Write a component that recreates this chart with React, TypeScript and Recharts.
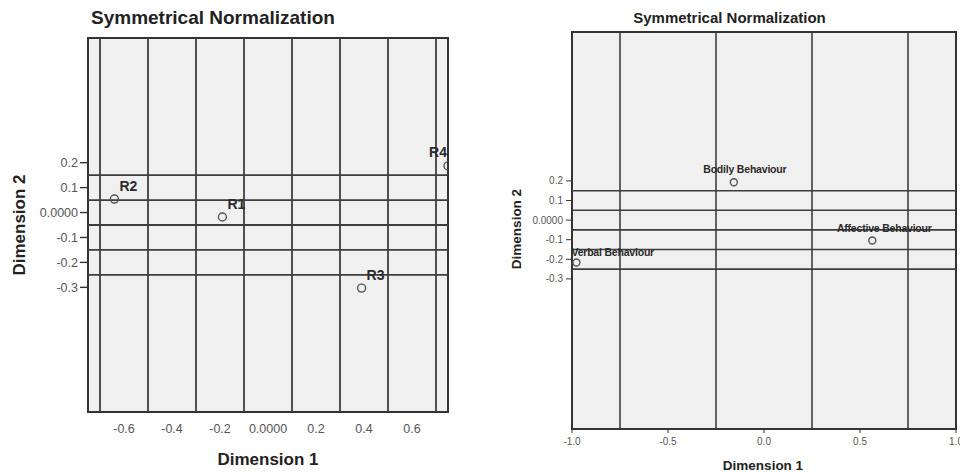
import React from "react";
import {
  ScatterChart,
  Scatter,
  XAxis,
  YAxis,
  CartesianGrid,
  ReferenceLine,
  ReferenceArea,
} from "recharts";

const FONT = '"Liberation Sans", Arial, sans-serif';

// row points (left panel)
const rowLabels = ["R1", "R2", "R3", "R4"];
const rowDim1 = [-0.19, -0.64, 0.39, 0.75];
const rowDim2 = [-0.018, 0.054, -0.303, 0.187];

// column points (right panel)
const colLabels = ["Bodily Behaviour", "Affective Behaviour", "Verbal Behaviour"];
const colDim1 = [-0.157, 0.564, -0.977];
const colDim2 = [0.193, -0.104, -0.216];

const rowXTicks = [-0.6, -0.4, -0.2, 0, 0.2, 0.4, 0.6];
const colXTicks = [-1, -0.5, 0, 0.5, 1];
const yTicks = [-0.3, -0.2, -0.1, 0, 0.1, 0.2];

// reference lines drawn by SPSS
const rowGridX = [-0.7, -0.5, -0.3, -0.1, 0.1, 0.3, 0.5, 0.7];
const colGridX = [-0.75, -0.25, 0.25, 0.75];
const gridY = [-0.25, -0.15, -0.05, 0.05, 0.15];

const fmtX = (v: number) => (v === 0 ? "0.0000" : v.toFixed(1));
const fmtColX = (v: number) => v.toFixed(1);
const fmtY = (v: number) => (v === 0 ? "0.0000" : v.toFixed(1));

const LINE = "#3d3d3d";

type Place = { anchor: "start" | "middle" | "end"; dx: number; dy: number };

const rowPlace = (name: string): Place =>
  name === "R4" ? { anchor: "end", dx: -1, dy: -9 } : { anchor: "start", dx: 5, dy: -8 };

const colPlace = (name: string): Place => {
  if (name === "Bodily Behaviour") return { anchor: "middle", dx: 11, dy: -9 };
  if (name === "Affective Behaviour") return { anchor: "middle", dx: 12, dy: -8 };
  return { anchor: "start", dx: -5, dy: -6 };
};

const makeShape =
  (r: number, fontSize: number, place: (n: string) => Place, spacing = 0) =>
  (props: any) => {
    const { cx, cy, payload } = props;
    const p = place(payload.name);
    return (
      <g>
        <circle cx={cx} cy={cy} r={r} fill="none" stroke="#555" strokeWidth={1.4} />
        <text
          x={cx + p.dx}
          y={cy + p.dy}
          textAnchor={p.anchor}
          fontSize={fontSize}
          fontWeight="bold"
          fontFamily={FONT}
          letterSpacing={spacing}
          fill="#2a2a2a"
        >
          {payload.name}
        </text>
      </g>
    );
  };

const rowShape = makeShape(4, 14, rowPlace);
const colShape = makeShape(3.5, 10.5, colPlace, -0.2);

const abs = (style: React.CSSProperties): React.CSSProperties => ({
  position: "absolute",
  whiteSpace: "nowrap",
  fontFamily: FONT,
  fontWeight: "bold",
  color: "#222",
  ...style,
});

function RowPanel() {
  const data = rowLabels.map((name, i) => ({ name, x: rowDim1[i], y: rowDim2[i] }));
  return (
    <div style={{ position: "absolute", left: 0, top: 0, width: 480, height: 472 }}>
      <ScatterChart width={480} height={472} margin={{ top: 38, right: 32, bottom: 0, left: 0 }}>
        <CartesianGrid horizontal={false} vertical={false} fill="#f0f0f0" />
        {rowGridX.map((v) => (
          <ReferenceLine key={"x" + v} x={v} stroke={LINE} strokeWidth={1.8} />
        ))}
        {gridY.map((v) => (
          <ReferenceLine key={"y" + v} y={v} stroke={LINE} strokeWidth={1.8} />
        ))}
        <ReferenceArea
          x1={-0.75}
          x2={0.75}
          y1={-0.8}
          y2={0.7}
          fill="none"
          stroke="#333"
          strokeWidth={2}
          ifOverflow="visible"
        />
        <XAxis
          type="number"
          dataKey="x"
          domain={[-0.75, 0.75]}
          allowDataOverflow
          ticks={rowXTicks}
          interval={0}
          tickFormatter={fmtX}
          height={60}
          axisLine={false}
          tickLine={false}
          tickSize={6}
          tickMargin={6}
          tick={{ fill: "#555", fontSize: 12.5, fontFamily: FONT }}
        />
        <YAxis
          type="number"
          dataKey="y"
          domain={[-0.8, 0.7]}
          allowDataOverflow
          ticks={yTicks}
          interval={0}
          tickFormatter={fmtY}
          width={88}
          axisLine={false}
          tickLine={{ stroke: "#333", strokeWidth: 1.4 }}
          tickSize={8}
          tickMargin={2}
          tick={{ fill: "#555", fontSize: 12.5, fontFamily: FONT }}
        />
        <Scatter data={data} shape={rowShape} isAnimationActive={false} />
      </ScatterChart>
      <div style={abs({ left: 91, top: 8, fontSize: 19, lineHeight: "19px" })}>
        Symmetrical Normalization
      </div>
      <div
        style={abs({
          left: 268,
          top: 451,
          fontSize: 17,
          lineHeight: "17px",
          transform: "translateX(-50%)",
        })}
      >
        Dimension 1
      </div>
      <div
        style={abs({
          left: 19,
          top: 225,
          fontSize: 17,
          lineHeight: "17px",
          transform: "translate(-50%, -50%) rotate(-90deg)",
        })}
      >
        Dimension 2
      </div>
    </div>
  );
}

function ColPanel() {
  const data = colLabels.map((name, i) => ({ name, x: colDim1[i], y: colDim2[i] }));
  return (
    <div style={{ position: "absolute", left: 480, top: 0, width: 480, height: 472 }}>
      <ScatterChart width={480} height={472} margin={{ top: 32, right: 4, bottom: 0, left: 0 }}>
        <CartesianGrid horizontal={false} vertical={false} fill="#f0f0f0" />
        {colGridX.map((v) => (
          <ReferenceLine key={"x" + v} x={v} stroke={LINE} strokeWidth={1.6} />
        ))}
        {gridY.map((v) => (
          <ReferenceLine key={"y" + v} y={v} stroke={LINE} strokeWidth={1.6} />
        ))}
        <ReferenceArea
          x1={-1}
          x2={1}
          y1={-1.066}
          y2={0.96}
          fill="none"
          stroke="#333"
          strokeWidth={2}
          ifOverflow="visible"
        />
        <XAxis
          type="number"
          dataKey="x"
          domain={[-1, 1]}
          ticks={colXTicks}
          interval={0}
          tickFormatter={fmtColX}
          height={43}
          axisLine={false}
          tickLine={{ stroke: "#333" }}
          tickSize={4}
          tickMargin={5}
          tick={{ fill: "#555", fontSize: 10, fontFamily: FONT }}
        />
        <YAxis
          type="number"
          dataKey="y"
          domain={[-1.066, 0.96]}
          ticks={yTicks}
          interval={0}
          tickFormatter={fmtY}
          width={92}
          axisLine={false}
          tickLine={{ stroke: "#333" }}
          tickSize={6}
          tickMargin={3}
          tick={{ fill: "#555", fontSize: 10, fontFamily: FONT }}
        />
        <Scatter data={data} shape={colShape} isAnimationActive={false} />
      </ScatterChart>
      <div
        style={abs({
          left: 249.5,
          top: 10,
          fontSize: 15,
          lineHeight: "15px",
          transform: "translateX(-50%)",
        })}
      >
        Symmetrical Normalization
      </div>
      <div
        style={abs({
          left: 283,
          top: 459,
          fontSize: 13.5,
          lineHeight: "13.5px",
          transform: "translateX(-50%)",
        })}
      >
        Dimension 1
      </div>
      <div
        style={abs({
          left: 37,
          top: 229,
          fontSize: 13.5,
          lineHeight: "13.5px",
          transform: "translate(-50%, -50%) rotate(-90deg)",
        })}
      >
        Dimension 2
      </div>
    </div>
  );
}

export default function App() {
  return (
    <div
      style={{
        position: "absolute",
        left: 0,
        top: 0,
        width: 960,
        height: 472,
        background: "#fff",
        overflow: "hidden",
      }}
    >
      <RowPanel />
      <ColPanel />
    </div>
  );
}
